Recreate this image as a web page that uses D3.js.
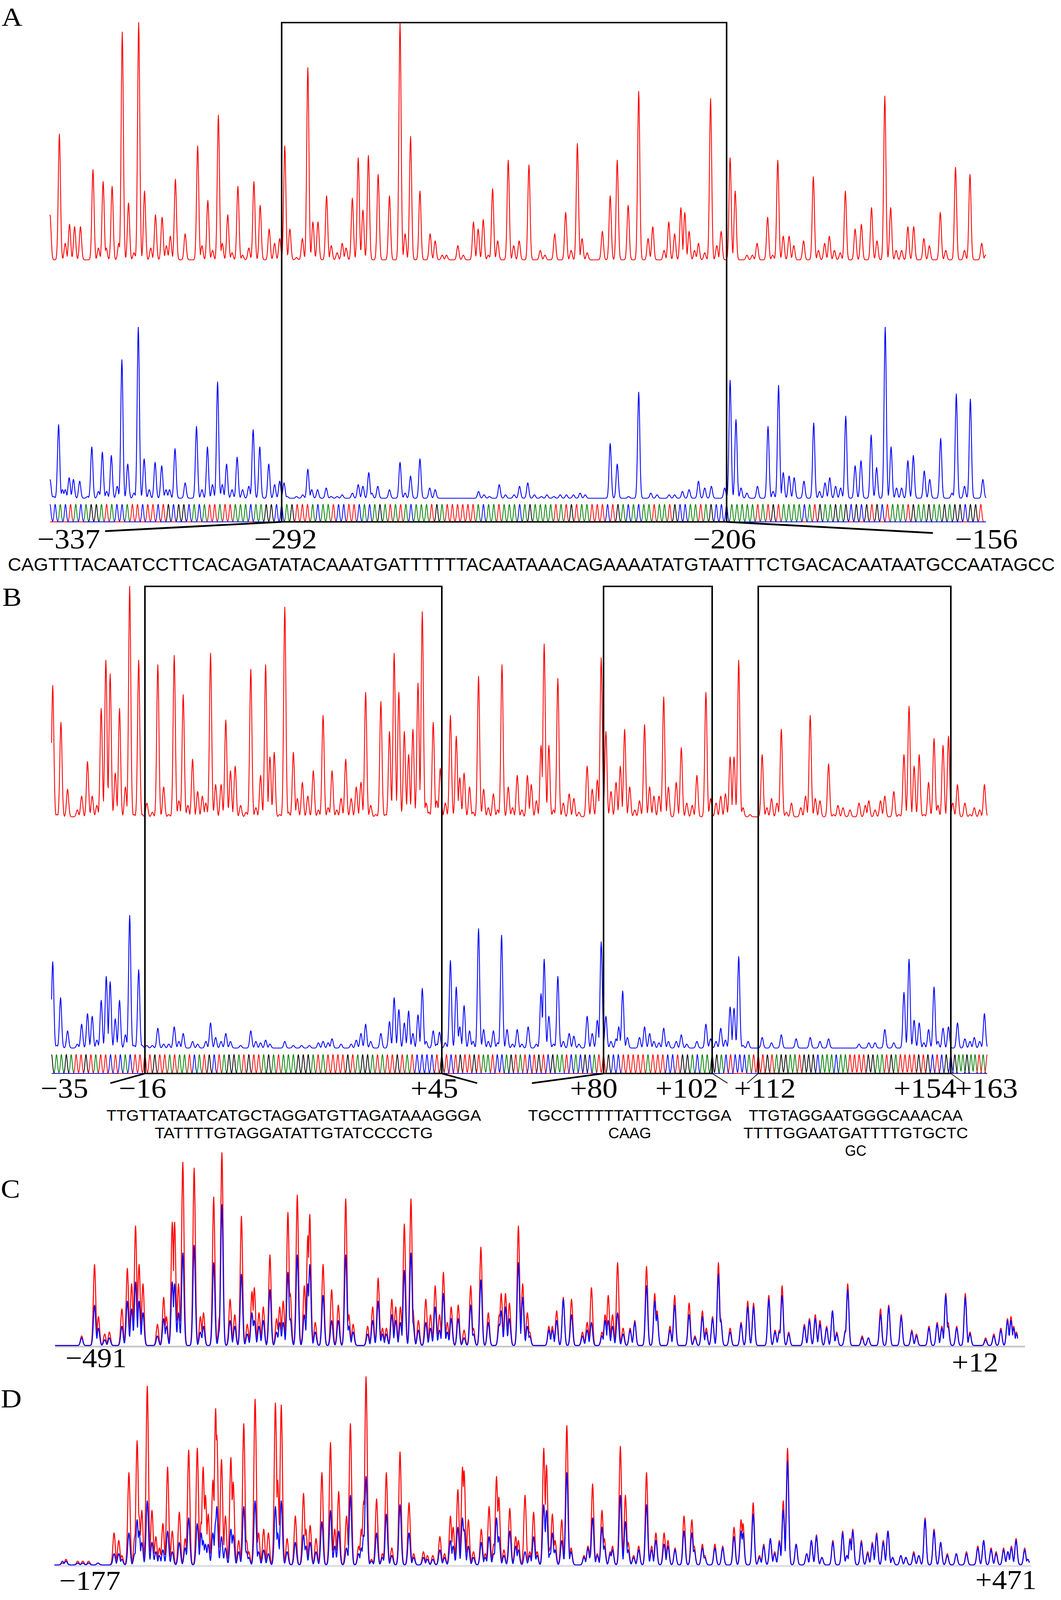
<!DOCTYPE html>
<html>
<head>
<meta charset="utf-8">
<script src="https://cdn.jsdelivr.net/npm/d3@7"></script>
<style>
  html, body { margin: 0; padding: 0; background: #fff; overflow: hidden; }
  svg { display: block; }
</style>
</head>
<body>
<div id="fig"></div>
<script>
// ---- data (scan positions, peak heights in % of panel max) ----
const marksA = [-337, -292, -206, -156];
const marksAScan = [0, 593, 1732, 2396];
const boxesA = [[-292, -206]];

const redA = [[0,19],[24,53],[39,7],[50,15],[63,14],[78,14],[110,38],[124,5],[136,33],[144,5],[159,31],[176,7],[185,96],[201,24],[215,3],[227,100],[242,29],[258,5],[270,19],[287,18],[298,6],[308,10],[321,34],[346,11],[378,48],[389,6],[404,25],[416,4],[431,61],[441,7],[455,19],[466,3],[481,31],[493,2],[509,5],[522,33],[538,23],[561,13],[575,7],[588,9],[601,48],[614,13],[631,1],[646,9],[660,81],[673,16],[686,16],[708,27],[720,6],[735,3],[748,7],[758,5],[774,26],[789,43],[801,21],[815,44],[840,36],[869,27],[896,100],[909,11],[923,52],[947,29],[973,11],[986,8],[1004,2],[1015,2],[1044,6],[1058,2],[1084,16],[1096,13],[1109,17],[1122,2],[1133,30],[1146,8],[1173,42],[1187,6],[1201,8],[1226,40],[1255,4],[1267,2],[1292,11],[1320,20],[1334,4],[1350,49],[1362,9],[1375,3],[1414,12],[1434,27],[1452,42],[1480,23],[1507,71],[1531,9],[1543,14],[1572,4],[1584,16],[1599,11],[1615,22],[1625,20],[1636,12],[1650,4],[1660,7],[1676,3],[1691,68],[1707,6],[1718,12],[1741,43],[1754,29],[1784,2],[1798,2],[1810,7],[1837,18],[1850,2],[1863,42],[1877,10],[1892,10],[1904,6],[1929,8],[1954,35],[1967,4],[1983,7],[1995,10],[2008,4],[2023,3],[2036,29],[2061,13],[2077,15],[2103,22],[2117,8],[2137,69],[2152,22],[2166,4],[2180,4],[2196,14],[2211,14],[2237,9],[2251,6],[2279,20],[2293,4],[2318,39],[2341,4],[2355,36],[2385,7],[2395,2]];

const blueA = [[0,11],[9,1],[22,43],[32,5],[39,5],[49,12],[60,11],[76,10],[96,1],[107,30],[124,4],[134,27],[145,4],[157,25],[172,7],[184,81],[199,20],[215,3],[226,100],[241,23],[254,5],[269,21],[286,19],[297,5],[306,5],[320,29],[346,9],[375,42],[389,5],[403,30],[416,8],[429,68],[441,8],[452,20],[466,5],[479,24],[493,5],[509,7],[520,40],[537,30],[560,20],[575,8],[588,10],[599,9],[607,1],[631,1],[647,2],[660,17],[670,5],[685,5],[707,6],[720,1],[735,1],[748,2],[774,3],[789,8],[801,7],[816,15],[824,3],[839,7],[869,5],[896,21],[909,3],[923,13],[947,23],[972,6],[986,5],[1097,4],[1111,2],[1125,1],[1150,8],[1166,2],[1188,2],[1202,7],[1223,9],[1240,2],[1258,1],[1272,2],[1290,1],[1306,2],[1322,2],[1340,2],[1357,3],[1370,2],[1434,32],[1452,20],[1481,1],[1507,62],[1538,3],[1554,2],[1585,2],[1599,2],[1619,4],[1636,5],[1660,10],[1676,6],[1693,7],[1727,6],[1741,69],[1756,46],[1769,6],[1784,3],[1811,7],[1838,42],[1851,4],[1865,66],[1877,15],[1892,13],[1905,12],[1930,10],[1955,44],[1970,4],[1984,9],[1996,12],[2011,7],[2024,6],[2037,48],[2061,19],[2076,22],[2102,37],[2116,18],[2138,100],[2153,30],[2167,6],[2180,6],[2196,22],[2210,25],[2238,16],[2252,11],[2280,35],[2309,3],[2320,61],[2341,7],[2356,58],[2388,11]];

// sequencing ladder bases, A = green, C = blue, G = black, T = red
const ladderALeft = 'CCACTACAGGATACCATTCTTCTGCGGCACATTATTAAACAAGGC';
const seqA = 'CAGTTTACAATCCTTCACAGATATACAAATGATTTTTTACAATAAACAGAAAATATGTAATTTCTGACACAATAATGCCAATAGCC';
const ladderARight = 'CAAAAATATGTAAAACATGAAGAGCGCGTGCTAAATGAAGAAGAGGCGGT';

const marksB = [-35, -16, 45, 80, 102, 112, 154, 163];
const marksBScan = [0, 239, 999, 1413, 1691, 1809, 2302, 2395];
const boxesB = [[-16, 45], [80, 102], [112, 154]];

const redB = [[3,57],[14,1],[24,41],[41,12],[66,3],[77,9],[92,24],[104,9],[116,5],[127,47],[139,68],[150,62],[163,19],[174,47],[189,13],[200,100],[211,1],[223,68],[232,1],[244,6],[258,2],[272,66],[287,13],[300,1],[314,70],[326,7],[337,53],[349,5],[361,25],[374,11],[386,9],[395,6],[407,71],[420,14],[434,14],[446,42],[458,20],[470,22],[484,5],[498,2],[510,64],[523,4],[535,18],[548,66],[559,26],[570,28],[584,1],[597,91],[607,2],[619,28],[629,8],[642,15],[656,9],[670,20],[683,3],[695,44],[708,4],[718,20],[730,3],[741,8],[753,25],[767,8],[780,13],[792,15],[804,54],[817,5],[830,1],[843,50],[855,1],[865,37],[877,71],[889,54],[903,37],[914,27],[925,38],[938,58],[949,89],[959,6],[966,2],[977,41],[986,7],[995,21],[1008,6],[1021,44],[1036,35],[1045,17],[1056,19],[1070,13],[1079,2],[1093,61],[1106,12],[1118,4],[1131,10],[1142,3],[1153,66],[1169,13],[1180,4],[1192,18],[1204,3],[1218,18],[1228,14],[1241,7],[1253,31],[1261,75],[1273,31],[1285,3],[1296,60],[1310,6],[1325,10],[1337,8],[1350,2],[1371,22],[1384,12],[1397,16],[1407,69],[1419,37],[1432,11],[1445,15],[1456,22],[1467,38],[1480,13],[1493,3],[1505,7],[1518,40],[1531,13],[1542,9],[1555,9],[1567,52],[1579,13],[1599,15],[1612,30],[1626,6],[1640,5],[1652,18],[1675,54],[1687,8],[1701,6],[1713,9],[1725,10],[1737,26],[1747,26],[1759,68],[1770,4],[1788,1],[1819,27],[1831,4],[1843,8],[1857,6],[1868,38],[1881,2],[1894,6],[1918,4],[1930,9],[1942,44],[1955,8],[1967,7],[1989,23],[2002,1],[2013,5],[2026,4],[2044,3],[2067,6],[2083,5],[2092,7],[2108,3],[2122,7],[2133,9],[2156,11],[2169,1],[2182,27],[2195,48],[2208,22],[2221,27],[2233,1],[2245,15],[2259,34],[2269,5],[2282,31],[2296,35],[2307,6],[2319,14],[2338,6],[2351,1],[2362,4],[2376,3],[2388,14]];

const blueB = [[3,65],[13,2],[23,38],[41,13],[66,3],[77,18],[92,26],[104,24],[116,6],[127,36],[140,54],[150,50],[163,22],[174,36],[189,10],[200,100],[211,2],[223,59],[232,2],[244,2],[258,2],[272,15],[287,3],[300,3],[314,16],[326,5],[337,11],[361,5],[374,3],[395,5],[407,19],[420,8],[434,5],[446,11],[458,5],[484,2],[510,13],[523,5],[535,4],[548,6],[559,3],[597,5],[619,2],[640,2],[660,2],[683,4],[695,5],[708,4],[718,7],[741,3],[767,3],[780,6],[792,11],[804,18],[817,5],[843,11],[865,20],[877,38],[889,29],[903,19],[914,28],[925,11],[938,25],[949,45],[959,5],[977,13],[986,3],[993,12],[1008,4],[1021,66],[1036,46],[1045,16],[1056,32],[1070,13],[1079,5],[1093,90],[1106,14],[1118,5],[1131,13],[1142,4],[1152,85],[1166,14],[1180,3],[1192,14],[1204,3],[1220,16],[1241,3],[1253,41],[1261,67],[1273,24],[1285,3],[1296,54],[1310,5],[1325,11],[1337,9],[1350,3],[1371,24],[1384,11],[1397,21],[1407,80],[1419,24],[1432,5],[1445,7],[1452,16],[1462,43],[1474,8],[1505,8],[1518,16],[1531,11],[1542,5],[1555,4],[1567,15],[1579,5],[1599,5],[1612,10],[1626,3],[1652,5],[1675,18],[1687,7],[1701,5],[1713,15],[1725,6],[1737,31],[1747,30],[1759,69],[1770,2],[1783,5],[1819,8],[1843,4],[1868,10],[1906,7],[1942,8],[1967,5],[1989,7],[2067,3],[2092,4],[2108,4],[2133,14],[2156,4],[2182,42],[2195,67],[2208,21],[2221,19],[2233,4],[2245,14],[2259,46],[2269,5],[2282,15],[2296,16],[2319,19],[2338,7],[2351,5],[2362,8],[2376,5],[2388,26]];

const seqB1 = ['TTGTTATAATCATGCTAGGATGTTAGATAAAGGGA', 'TATTTTGTAGGATATTGTATCCCCTG'];
const seqB2 = ['TGCCTTTTTATTTCCTGGA', 'CAAG'];
const seqB3 = ['TTGTAGGAATGGGCAAACAA', 'TTTTGGAATGATTTTGTGCTC', 'GC'];
const ladderBLeft = 'GAAGATTGTATTCTCACTT';
const ladderBMid1 = 'TCTGTTGTAATCCAGTATCTGTCGAATCACGCAT';
const ladderBMid2 = 'GACTCCCAT';
const ladderBRight = 'GAAGAATAT';

// C and D: [scan, red %, blue %]
const endsC = [-491, 12];
const peaksC = [[68,5,4],[101,42,21],[111,15,9],[127,6,3],[139,7,4],[171,19,10],[185,40,23],[196,32,19],[206,62,33],[215,42,23],[225,32,17],[262,11,5],[278,25,14],[285,15,10],[300,64,33],[306,64,32],[316,32,17],[327,95,48],[356,92,52],[372,15,7],[380,17,10],[406,77,43],[421,15,8],[427,100,73],[448,24,13],[460,16,10],[477,67,37],[492,11,6],[504,28,17],[510,30,13],[522,17,10],[533,20,13],[550,47,29],[567,14,7],[575,20,12],[584,23,12],[596,69,38],[602,27,14],[620,78,47],[638,31,16],[647,57,32],[652,68,42],[666,12,7],[686,42,26],[708,29,13],[725,21,13],[744,76,47],[752,16,10],[763,11,7],[800,10,6],[813,20,13],[827,35,23],[838,9,6],[848,9,6],[862,24,16],[872,20,13],[884,20,12],[894,63,39],[911,76,48],[916,19,12],[930,13,8],[949,24,12],[961,16,9],[973,31,20],[984,16,8],[994,38,27],[1004,12,7],[1014,20,14],[1032,21,14],[1047,8,4],[1064,31,21],[1071,9,6],[1090,51,34],[1109,17,12],[1137,16,11],[1142,27,18],[1153,27,20],[1163,22,14],[1186,62,43],[1197,32,25],[1209,17,10],[1215,7,5],[1264,10,8],[1273,10,8],[1284,18,13],[1301,25,24],[1322,24,16],[1350,7,5],[1362,12,8],[1373,30,12],[1400,7,5],[1408,16,13],[1416,26,13],[1427,16,10],[1440,43,17],[1454,9,6],[1472,9,8],[1484,13,12],[1514,41,31],[1535,27,23],[1541,18,16],[1574,10,8],[1586,26,21],[1623,22,16],[1638,5,4],[1657,18,15],[1667,9,7],[1683,15,14],[1698,43,37],[1704,14,13],[1728,9,7],[1756,12,11],[1773,23,20],[1788,22,20],[1827,26,24],[1843,8,7],[1854,8,7],[1861,31,26],[1878,7,6],[1918,11,10],[1931,14,13],[1946,16,14],[1958,13,11],[1975,10,9],[1990,18,18],[2001,7,6],[2023,8,7],[2029,32,29],[2066,5,4],[2082,4,4],[2113,19,16],[2134,21,20],[2166,16,15],[2193,8,7],[2205,6,5],[2237,10,9],[2258,12,11],[2270,10,9],[2280,27,26],[2286,12,10],[2308,10,9],[2330,27,25],[2342,7,6],[2382,4,3],[2403,6,5],[2421,9,8],[2438,14,13],[2447,15,13],[2454,10,9],[2461,7,6]];

const endsD = [-177, 471];
const peaksD = [[21,1,2],[30,3,2],[60,2,1],[73,2,1],[88,2,1],[112,1,1],[153,17,6],[165,13,6],[173,5,3],[191,49,17],[206,15,6],[212,66,24],[217,26,18],[224,29,12],[238,95,34],[250,29,12],[260,15,7],[269,9,5],[278,22,8],[290,52,18],[302,18,7],[320,28,12],[335,14,9],[344,61,25],[366,62,22],[376,23,17],[381,52,13],[387,37,11],[394,27,11],[406,45,17],[413,83,23],[416,69,31],[428,56,15],[438,26,9],[452,57,19],[458,44,16],[472,13,7],[485,75,31],[492,13,7],[498,7,4],[514,88,34],[523,17,7],[536,19,8],[548,17,6],[566,86,31],[572,45,17],[581,85,34],[596,14,7],[617,26,12],[638,38,16],[644,19,10],[655,21,12],[670,14,7],[685,49,23],[707,65,29],[718,19,10],[728,39,18],[748,26,9],[758,75,37],[779,10,6],[786,19,9],[792,34,16],[798,100,47],[812,3,2],[825,35,17],[840,6,4],[850,49,27],[864,9,5],[885,60,32],[908,33,17],[920,6,4],[945,7,4],[955,5,3],[969,5,3],[987,15,8],[999,6,4],[1014,26,13],[1021,20,10],[1033,40,20],[1045,52,25],[1049,50,19],[1060,24,10],[1073,7,4],[1093,19,12],[1103,6,4],[1113,31,15],[1125,11,6],[1132,47,25],[1138,36,15],[1151,8,5],[1166,30,18],[1181,15,10],[1188,13,8],[1205,37,7],[1217,7,5],[1227,28,15],[1236,7,5],[1253,62,32],[1260,53,29],[1269,9,6],[1275,27,17],[1282,13,8],[1299,24,13],[1312,74,49],[1323,9,7],[1356,5,4],[1366,10,9],[1373,9,5],[1378,43,25],[1390,6,5],[1402,29,20],[1408,14,10],[1423,7,6],[1429,10,8],[1449,63,37],[1462,37,23],[1469,12,8],[1483,5,4],[1496,10,8],[1516,49,32],[1529,10,8],[1540,17,13],[1561,17,11],[1571,13,10],[1589,9,8],[1612,26,18],[1632,24,17],[1638,10,8],[1659,11,9],[1665,5,4],[1691,11,9],[1711,10,9],[1740,20,15],[1758,24,18],[1763,22,17],[1789,33,27],[1805,5,4],[1816,11,10],[1833,14,14],[1844,7,6],[1856,13,12],[1866,34,29],[1877,62,55],[1899,11,11],[1926,6,6],[1938,13,13],[1951,16,15],[1965,4,4],[1993,13,12],[2018,18,17],[2029,5,5],[2037,14,13],[2044,19,18],[2066,13,12],[2082,7,6],[2094,12,11],[2105,17,16],[2122,13,12],[2134,18,18],[2146,4,4],[2167,5,5],[2180,4,4],[2200,7,6],[2213,5,5],[2229,25,24],[2252,19,18],[2269,12,12],[2286,6,5],[2309,6,6],[2335,7,6],[2364,10,9],[2379,13,13],[2398,9,8],[2411,7,6],[2430,9,8],[2441,7,7],[2450,10,9],[2462,14,13],[2484,9,8],[2492,3,3]];

// ---- drawing ----
const W = 2716, H = 4464;
const serif = '"Liberation Serif", "Times New Roman", serif';
const sans = '"Liberation Sans", Arial, sans-serif';
const RED = '#ff0000', BLUE = '#0000ff', GREEN = '#008000', BLACK = '#000000';
const baseColor = {A: GREEN, C: BLUE, G: BLACK, T: RED};

// fit the whole figure into the visible window
const viewW = window.innerWidth || W;
const viewH = Math.min(window.innerHeight || H, H);
const svg = d3.select('#fig').append('svg')
    .attr('width', viewW)
    .attr('height', viewH)
    .attr('viewBox', `0 0 ${W} ${H}`)
    .attr('preserveAspectRatio', 'none');
svg.append('rect').attr('width', W).attr('height', H).attr('fill', '#fff');

const fmt = n => (n < 0 ? '\u2212' + (-n) : '+' + n);

// electropherogram curve: each peak is a narrow gaussian, envelope = max
function curve(peaks, col, sigma, x0, x1) {
    const lim = 5 * sigma, k = 2 * sigma * sigma;
    return d3.range(x0, x1 + 0.5, 1).map(s => {
        let v = 0;
        for (const p of peaks) {
            const d = s - p[0];
            if (d > -lim && d < lim) v = Math.max(v, p[col] * Math.exp(-d * d / k));
        }
        return [s, v];
    });
}

function drawTrace(peaks, col, x, y, sigma, color, width) {
    const [x0, x1] = x.domain();
    svg.append('path')
        .attr('d', d3.line().x(d => x(d[0])).y(d => y(d[1]))(curve(peaks, col, sigma, x0, x1)))
        .attr('fill', 'none')
        .attr('stroke', color)
        .attr('stroke-width', width)
        .attr('stroke-linejoin', 'round');
}

function drawLadder(bases, posOf, x, y) {
    ['A', 'G', 'T', 'C'].forEach(b => {
        const pk = [];
        bases.split('').forEach((c, i) => { if (c === b) pk.push([posOf(i), 0.78]); });
        drawTrace(pk, 1, x, y, 2.4, baseColor[b], 2);
    });
}

function panelLetter(t, x, y) {
    svg.append('text').attr('x', x).attr('y', y)
        .attr('font-family', serif).attr('font-size', 74).text(t);
}

function numLabel(t, x, y, size) {
    svg.append('text').attr('x', x).attr('y', y)
        .attr('text-anchor', 'middle')
        .attr('font-family', serif).attr('font-size', size || 78).text(t);
}

// sequence text squeezed horizontally to a given width
function fitText(t, x, y, size, width, anchor) {
    const el = svg.append('text')
        .attr('font-family', sans).attr('font-size', size)
        .attr('text-anchor', anchor || 'start')
        .text(t);
    const natural = el.node().getComputedTextLength() || width;
    el.attr('transform', `translate(${x},${y}) scale(${width / natural},1)`);
}

function line(x1, y1, x2, y2, w) {
    svg.append('line').attr('x1', x1).attr('y1', y1).attr('x2', x2).attr('y2', y2)
        .attr('stroke', BLACK).attr('stroke-width', w).attr('stroke-linecap', 'butt');
}

// ===== Panel A =====
(function() {
    const x = d3.scaleLinear().domain([0, 2396]).range([128, 2524]);
    const nt = d3.scaleLinear().domain(marksA).range(marksAScan);
    const yRed = d3.scaleLinear().domain([0, 100]).range([725, 63]);
    const yBlue = d3.scaleLinear().domain([0, 100]).range([1390, 913]);
    const yLad = d3.scaleLinear().domain([0, 1]).range([1456, 1393]);

    panelLetter('A', 4, 72);
    drawTrace(redA, 1, x, yRed, 2.8, RED, 2.2);
    drawTrace(blueA, 1, x, yBlue, 2.8, BLUE, 2.2);
    const ladder = ladderALeft + seqA + ladderARight;
    drawLadder(ladder, i => nt(marksA[0] + i), x, yLad);

    boxesA.forEach(b => {
        svg.append('rect')
            .attr('x', x(nt(b[0]))).attr('y', yRed(100))
            .attr('width', x(nt(b[1])) - x(nt(b[0])))
            .attr('height', yLad(0) - yRed(100))
            .attr('fill', 'none').attr('stroke', BLACK).attr('stroke-width', 4);
    });
    const bl = x(nt(boxesA[0][0])), br = x(nt(boxesA[0][1]));
    line(bl, yLad(0), 269, 1482, 5);
    line(br, yLad(0), 2388, 1487, 5);

    const dx = [48, 10, -5, 1];
    marksA.forEach((m, i) => numLabel(fmt(m), x(nt(m)) + dx[i], 1530));

    fitText(seqA, 20, 1592, 50, 2680);
})();

// ===== Panel B =====
(function() {
    const x = d3.scaleLinear().domain([0, 2395]).range([132, 2527]);
    const idx = n => (n < 0 ? n + 35 : n + 34);   // ladder index, no position 0
    const pos = d3.scaleLinear().domain(marksB.map(idx)).range(marksBScan);
    const yRed = d3.scaleLinear().domain([0, 100]).range([2279, 1636]);
    const yBlue = d3.scaleLinear().domain([0, 100]).range([2924, 2554]);
    const yLad = d3.scaleLinear().domain([0, 1]).range([2995, 2927]);

    panelLetter('B', 6, 1690);
    drawTrace(redB, 1, x, yRed, 2.8, RED, 2.2);
    drawTrace(blueB, 1, x, yBlue, 2.8, BLUE, 2.2);
    const ladder = ladderBLeft + seqB1.join('') + ladderBMid1 + seqB2.join('') +
        ladderBMid2 + seqB3.join('') + ladderBRight;
    drawLadder(ladder, i => pos(i), x, yLad);

    const px = n => x(pos(idx(n)));
    boxesB.forEach(b => {
        svg.append('rect')
            .attr('x', px(b[0])).attr('y', yRed(100))
            .attr('width', px(b[1]) - px(b[0]))
            .attr('height', yLad(0) - yRed(100))
            .attr('fill', 'none').attr('stroke', BLACK).attr('stroke-width', 4);
    });

    const dx = [33, -6, -19, -25, -65, 17, -66, -2];
    marksB.forEach((m, i) => numLabel(fmt(m), px(m) + dx[i], 3062));

    // sequences under each box
    const groups = [seqB1, seqB2, seqB3];
    const gdx = [1, -72, 3];
    const charW = 27.4;
    const rowY = [3127, 3176, 3225];
    const connW = [[4.5, 4.5], [4.5, 2], [2, 2]];
    groups.forEach((rows, gi) => {
        const b = boxesB[gi];
        const cx = (px(b[0]) + px(b[1])) / 2 + gdx[gi];
        rows.forEach((r, ri) => fitText(r, cx, rowY[ri], 42, r.length * charW, 'middle'));
        const half = d3.max(rows, r => r.length) * charW / 2 - 10;
        line(px(b[0]), yLad(0), cx - half, 3022, connW[gi][0]);
        line(px(b[1]), yLad(0), cx + half, 3022, connW[gi][1]);
    });
})();

// ===== Panels C and D =====
function overlayPanel(letter, letterY, peaks, ends, xr, axisEnd, base, top, labelDx, labelY, axisColor) {
    const x = d3.scaleLinear().domain([0, xr[2]]).range([xr[0], xr[1]]);
    const y = d3.scaleLinear().domain([0, 100]).range([base, top]);
    panelLetter(letter, 2, letterY);
    svg.append('line')
        .attr('x1', xr[0]).attr('x2', axisEnd)
        .attr('y1', base + 3).attr('y2', base + 3)
        .attr('stroke', axisColor).attr('stroke-width', 5);
    drawTrace(peaks, 1, x, y, 3.0, RED, 2.6);
    drawTrace(peaks, 2, x, y, 3.0, BLUE, 2.6);
    numLabel(fmt(ends[0]), x(0) + labelDx[0], labelY[0], 76);
    numLabel(fmt(ends[1]), x(xr[2]) + labelDx[1], labelY[1], 76);
}

overlayPanel('C', 3341, peaksC, endsC, [141, 2605, 2464], 2624, 3754, 3216, [105, -109], [3814, 3826], '#c8c8c8');
overlayPanel('D', 3927, peaksD, endsD, [139, 2635, 2496], 2640, 4366, 3841, [91, -60], [4436, 4434], '#dcdce6');
</script>
</body>
</html>
